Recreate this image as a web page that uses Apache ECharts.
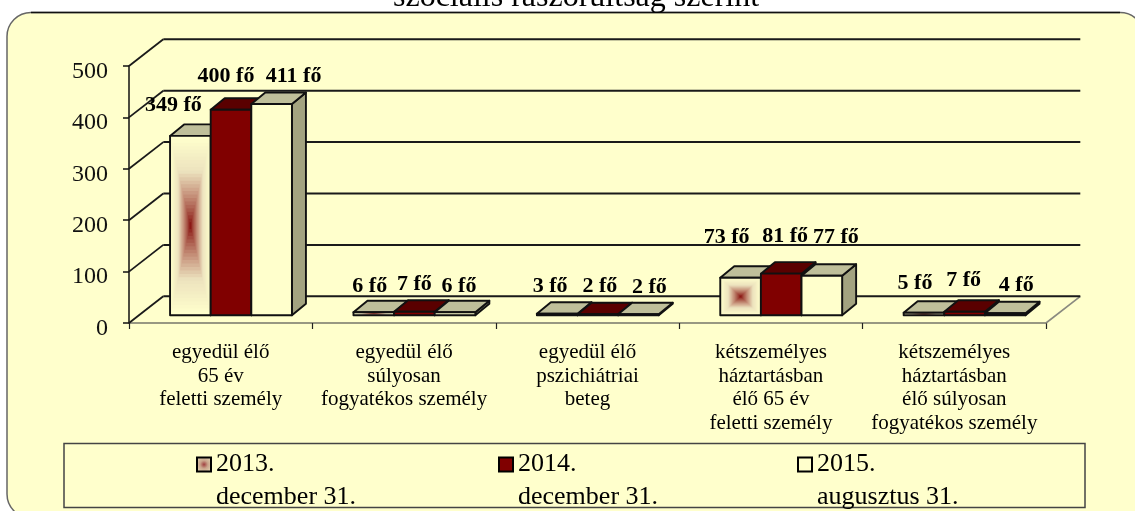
<!DOCTYPE html>
<html><head><meta charset="utf-8">
<style>html,body{margin:0;padding:0;background:#fff;overflow:hidden}#c{width:1135px;height:511px}</style>
<script src="https://cdn.jsdelivr.net/npm/echarts@6/dist/echarts.min.js"></script>
</head><body><div id="c"></div>
<script>
const categories = [
  'egyedül élő\n65 év\nfeletti személy',
  'egyedül élő\nsúlyosan\nfogyatékos személy',
  'egyedül élő\npszichiátriai\nbeteg',
  'kétszemélyes\nháztartásban\nélő 65 év\nfeletti személy',
  'kétszemélyes\nháztartásban\nélő súlyosan\nfogyatékos személy'
];
const tickValues = [0, 100, 200, 300, 400, 500];
const seriesNames = ['2013.\ndecember 31.', '2014.\ndecember 31.', '2015.\naugusztus 31.'];
const values2013 = [349, 6, 3, 73, 5];
const values2014 = [400, 7, 2, 81, 7];
const values2015 = [411, 6, 2, 77, 4];
// hand-placed label offsets from the top of each bar's front face, as in the original
const nudges2013 = [[-17,-31],[-4,-26],[-7,-27],[-14,-40],[-9,-29]];
const nudges2014 = [[-5,-33],[0,-27],[2,-28],[4,-37],[-1,-31]];
const nudges2015 = [[22,-28],[4,-26],[11,-27],[14,-38],[11,-28]];

const SERIF = '"Liberation Serif","Times New Roman",serif';
const WALL = [34.3, -26.7], BAR_BASE = [10.3, -7.7], BAR_DEPTH = [14, -11.5];
const BAR_SHARE = 0.2215;
const INK = '#111';

const pale = [255,255,204], red = [128,0,0], mid = [236,226,190];
function mix(a,b,t){return 'rgb('+a.map((v,i)=>Math.round(v+(b[i]-v)*t)).join(',')+')';}
function pathFill(t){ return t<0.62 ? mix(red,mid,Math.pow(t/0.62,0.8)) : mix(mid,pale,(t-0.62)/0.38); }

function barRenderer(si, front, top, side, gradient){
  const nudges = [nudges2013,nudges2014,nudges2015][si];
  return function(params, api){
    const i = api.value(0), v = api.value(1);
    const band = api.size([1,0])[0], w = band*BAR_SHARE;
    const c0 = api.coord([i,0]), c1 = api.coord([i,v]);
    const x0 = c0[0]+BAR_BASE[0]+(si-1)*w-w/2, x1 = x0+w;
    const y0 = c0[1]+BAR_BASE[1], y1 = c1[1]+BAR_BASE[1];
    const dx = BAR_DEPTH[0], dy = BAR_DEPTH[1];
    const line = {stroke:INK, lineWidth:1.9, lineJoin:'round'};
    const kids = [];
    kids.push({type:'polygon',shape:{points:[[x1,y0],[x1+dx,y0+dy],[x1+dx,y1+dy],[x1,y1]]},style:Object.assign({fill:side},line)});
    kids.push({type:'polygon',shape:{points:[[x0,y1],[x0+dx,y1+dy],[x1+dx,y1+dy],[x1,y1]]},style:Object.assign({fill:top},line)});
    kids.push({type:'rect',shape:{x:x0,y:y1,width:w,height:y0-y1},style:{fill:front}});
    if(gradient){
      const n = 26, cx=(x0+x1)/2, cy=(y0+y1)/2;
      for(let k=n;k>=1;k--){ const t=k/n;
        kids.push({type:'rect',shape:{x:cx-t*w/2,y:cy-t*(y0-y1)/2,width:t*w,height:t*(y0-y1)},style:{fill:pathFill(t)}});
      }
    }
    kids.push({type:'rect',shape:{x:x0,y:y1,width:w,height:y0-y1},style:Object.assign({fill:'none'},line)});
    kids.push({type:'text',z2:200,style:{x:(x0+x1)/2+nudges[i][0],y:y1+nudges[i][1],text:v+' fő',
      fill:'#000',font:'bold 22px '+SERIF,align:'center',verticalAlign:'middle'}});
    return {type:'group',children:kids};
  };
}
function rows(vals){return vals.map((v,i)=>[i,v]);}

const wallSeries = {
  type:'custom', name:'wall', silent:true, z:1,
  data: tickValues.map(v=>[0,v]),
  encode:{x:0,y:1},
  renderItem:function(params,api){
    const g = params.coordSys, v = api.value(1), y = api.coord([0,v])[1];
    const kids = [];
    kids.push({type:'line',shape:{x1:g.x,y1:y,x2:g.x+WALL[0],y2:y+WALL[1]},style:{stroke:'#1a1a1a',lineWidth:1.8}});
    if(v===0) kids.push({type:'line',shape:{x1:g.x+g.width,y1:y,x2:g.x+g.width+WALL[0],y2:y+WALL[1]},style:{stroke:'#8a8a80',lineWidth:1.6}});
    kids.push({type:'line',shape:{x1:g.x+WALL[0],y1:y+WALL[1],x2:g.x+g.width+WALL[0],y2:y+WALL[1]},style:{stroke:'#1a1a1a',lineWidth:2}});
    return {type:'group',children:kids};
  }
};
const legendBase = {top:415,padding:0,itemWidth:14,itemHeight:14,selectedMode:false,icon:'rect',
  formatter:function(n){return ' \n'+n;},
  textStyle:{fontFamily:SERIF,fontSize:26,lineHeight:33,color:'#000'},itemGap:0};

const chart = echarts.init(document.getElementById('c'));
chart.setOption({
  animation:false,
  backgroundColor:'#fff',
  title:{text:'szociális rászorultság szerint',left:393,top:-18,padding:0,
    textStyle:{fontFamily:SERIF,fontWeight:'normal',fontSize:32,color:'#000'}},
  grid:{left:129,top:66,width:917,height:257},
  xAxis:{type:'category',data:categories,
    axisLine:{lineStyle:{color:'#77776a',width:1.5}},
    axisTick:{show:true,length:6,lineStyle:{color:'#222',width:1.2}},
    axisLabel:{interval:0,margin:18,fontFamily:SERIF,fontSize:21,lineHeight:23.5,color:'#000',align:'center',verticalAlign:'top'}},
  yAxis:{type:'value',min:0,max:500,interval:100,
    axisLine:{show:true,lineStyle:{color:'#111',width:1.5}},
    axisTick:{show:true,length:6,lineStyle:{color:'#111',width:1.5}},
    splitLine:{show:false},
    axisLabel:{margin:21,fontFamily:SERIF,fontSize:24,color:'#111',verticalAlign:'top',lineHeight:11}},
  legend:[
    Object.assign({},legendBase,{left:196,data:[seriesNames[0]],
      itemStyle:{borderColor:'#000',borderWidth:2,color:{type:'radial',x:.5,y:.5,r:.6,colorStops:[{offset:0,color:'#a04040'},{offset:.4,color:'#c9a38a'},{offset:1,color:'#e6dcb8'}]}}}),
    Object.assign({},legendBase,{left:498,data:[seriesNames[1]],itemStyle:{borderColor:'#000',borderWidth:2,color:'#800000'}}),
    Object.assign({},legendBase,{left:797,data:[seriesNames[2]],itemStyle:{borderColor:'#000',borderWidth:2,color:'#ffffcc'}})
  ],
  graphic:[
    {type:'rect',z:-10,silent:true,shape:{x:7,y:12.5,width:1137,height:505.5,r:24},style:{fill:'#ffffcc',stroke:'#666',lineWidth:1.5}},
    {type:'line',z:-9,silent:true,shape:{x1:31,y1:12.5,x2:1120,y2:12.5},style:{stroke:'#111',lineWidth:1.3}},
    {type:'rect',z:-9,silent:true,shape:{x:64,y:443.5,width:1021,height:64},style:{fill:'none',stroke:'#444',lineWidth:1.5}}
  ],
  series:[
    wallSeries,
    {type:'custom',name:seriesNames[0],z:2,data:rows(values2013),encode:{x:0,y:1},renderItem:barRenderer(0,'#ffffcc','#bfbf9a','#a3a380',true)},
    {type:'custom',name:seriesNames[1],z:3,data:rows(values2014),encode:{x:0,y:1},renderItem:barRenderer(1,'#800000','#5a0000','#5a0000',false)},
    {type:'custom',name:seriesNames[2],z:4,data:rows(values2015),encode:{x:0,y:1},renderItem:barRenderer(2,'#ffffcc','#bfbf9a','#a3a380',false)}
  ]
});
</script></body></html>
